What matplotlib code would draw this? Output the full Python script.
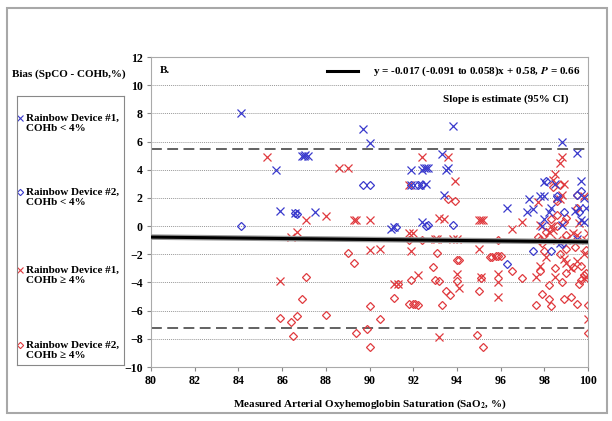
import numpy as np
import matplotlib
matplotlib.use("Agg")
from matplotlib import pyplot as plt
from matplotlib.patches import Rectangle

plt.rcParams['font.family'] = ['Liberation Serif', 'DejaVu Serif']
plt.rcParams['font.weight'] = 'bold'
plt.rcParams['mathtext.fontset'] = 'stix'

# Rainbow Device #1, COHb < 4%  (blue x)
d1_lo_x = [84.1, 85.7, 85.9, 86.6, 87.5, 86.9, 87.0, 87.2, 87.05, 89.7, 90.0, 91.0, 91.1,
           91.9, 92.4, 92.5, 92.6, 92.7, 91.9, 92.3, 92.6, 92.4, 93.3, 93.5, 93.6, 93.4, 93.8,
           96.3, 97.2, 97.3, 97.5, 97.8, 98.0, 98.0, 98.2, 98.3, 98.0, 97.9, 98.6, 98.8, 98.8,
           98.7, 98.5, 99.5, 99.7, 99.4, 99.6, 99.7, 99.8, 99.9, 99.5, 99.8]
d1_lo_y = [8.0, 4.0, 1.1, 0.9, 1.0, 5.0, 5.0, 5.0, 5.05, 6.9, 5.9, -0.2, -0.1,
           4.0, 4.0, 4.1, 4.1, 4.1, 2.9, 2.9, 3.0, 0.3, 5.1, 4.0, 4.1, 2.2, 7.1,
           1.3, 1.0, 1.9, 1.2, 2.1, 2.1, 3.1, 1.0, 1.3, 0.5, 0.0, 2.0, 6.0, 0.1,
           -1.2, 3.0, 5.2, 3.2, 1.1, 1.3, 0.4, 0.3, 1.3, -0.9, 2.0]

# Rainbow Device #2, COHb < 4%  (blue diamond)
d2_lo_x = [84.1, 86.6, 86.7, 89.7, 90.0, 91.2, 91.9, 92.2, 92.4, 92.6, 92.7, 93.8,
           96.3, 97.5, 98.3, 98.8, 98.6, 98.9, 99.7, 99.5, 99.6, 98.1]
d2_lo_y = [0.0, 0.9, 0.85, 2.9, 2.9, -0.05, 2.9, 2.9, 2.9, 0.0, 0.1, 0.1,
           -2.7, -1.8, -1.8, -1.3, 2.1, 1.0, 2.5, 2.2, 1.0, 3.2]

# Rainbow Device #1, COHb >= 4%  (red x)
d1_hi_x = [85.3, 85.9, 86.4, 86.7, 87.1, 88.0, 88.6, 89.0, 89.3, 89.4, 90.0, 90.0, 90.5,
           91.1, 91.3, 91.8, 92.0, 91.9, 91.8, 92.2, 92.4, 93.0, 93.1, 93.2, 93.4, 93.2,
           93.6, 93.8, 94.0, 93.9, 94.0, 94.1, 95.0, 95.1, 95.2, 95.0, 95.1, 95.9, 95.9,
           95.9, 96.5, 97.0, 97.7, 97.6, 97.8, 97.8, 98.0, 98.2, 98.4, 98.5, 98.4, 98.7,
           98.8, 98.9, 98.8, 98.7, 98.9, 99.0, 98.5, 99.0, 99.3, 99.5, 99.6, 99.8, 99.9,
           100.0, 99.8, 99.9, 100.0, 99.5, 99.8, 98.1, 98.6, 99.2, 98.3]
d1_hi_y = [4.9, -3.9, -0.8, -0.4, 0.4, 0.7, 4.1, 4.1, 0.4, 0.4, 0.4, -1.7, -1.6,
           -4.1, -4.1, -0.5, -0.5, -1.8, 2.9, -3.5, 4.9, -0.9, -0.9, 0.6, 0.5, -7.9,
           4.9, -0.9, -0.9, 3.2, -3.4, -4.4, 0.4, 0.4, 0.4, -1.6, -3.6, -3.4, -5.0,
           -4.0, -0.2, 0.3, 1.7, -3.6, -2.8, 0.1, -0.9, -0.4, -0.3, 3.7, 3.3, 4.5,
           4.9, 3.0, 2.2, 1.9, -2.3, -2.6, -3.6, -1.0, -0.5, -0.6, 0.2, 2.1, -1.0,
           -0.5, -3.7, -3.6, -6.6, -2.5, -2.0, -2.2, -1.0, -3.0, 0.0]

# Rainbow Device #2, COHb >= 4%  (red diamond)
d2_hi_x = [85.9, 86.4, 86.5, 86.7, 86.9, 87.1, 88.0, 89.0, 89.3, 89.4, 90.0, 89.9, 90.0,
           90.5, 91.1, 91.3, 91.8, 91.8, 92.0, 92.1, 92.2, 91.9, 92.4, 92.9, 93.0, 93.1,
           93.2, 93.3, 93.5, 93.7, 93.6, 93.9, 94.0, 94.1, 94.0, 94.9, 95.0, 95.1, 95.2,
           95.5, 95.6, 95.8, 95.9, 96.0, 95.9, 96.5, 97.0, 97.6, 97.9, 97.8, 97.9, 98.0,
           98.2, 98.3, 98.2, 98.5, 98.7, 98.8, 98.9, 99.0, 99.0, 98.9, 99.2, 99.3, 99.5,
           99.6, 99.7, 99.8, 99.9, 100.0, 100.0, 99.9, 99.5, 99.5, 98.7, 98.6, 98.4, 99.0,
           98.6, 97.7, 98.6, 99.0, 99.4, 99.7, 98.3, 97.8, 98.1]
d2_hi_y = [-6.5, -6.8, -7.8, -6.4, -5.2, -3.6, -6.3, -1.9, -2.6, -7.6, -5.7, -7.3, -8.6,
           -6.6, -5.1, -4.1, -1.0, -5.5, -5.5, -5.5, -5.6, -3.8, -1.0, -2.9, -3.8, -1.9,
           -3.9, -5.6, -4.6, -4.9, 1.9, 1.8, -2.4, -2.4, -3.9, -7.7, -4.6, -3.7, -8.6,
           -2.2, -2.2, -2.1, -2.1, -2.1, -1.0, -3.2, -3.7, -5.6, -4.8, -3.2, -1.2, -1.8,
           -5.2, -5.7, -4.2, -3.0, -2.0, -4.0, -5.2, -3.3, -1.6, 0.3, -5.0, -2.9, -5.5,
           -4.1, -3.8, -3.5, -1.7, -5.6, -7.6, -3.3, 2.2, 1.3, 2.9, 1.8, 2.8, 0.6,
           0.8, -0.8, 0.0, -0.6, -1.5, -2.8, 0.5, -1.0, -0.4]

slope = -0.017
intercept = 0.58
upper_loa = 5.5
lower_loa = -7.2

legend_labels = ["Rainbow Device #1,\nCOHb < 4%", "Rainbow Device #2,\nCOHb < 4%",
                 "Rainbow Device #1,\nCOHb \u2265 4%", "Rainbow Device #2,\nCOHb \u2265 4%"]

blue = '#3a3acc'
red = '#e03a3e'
W, H = 612, 421

fig = plt.figure(figsize=(6.12, 4.21), dpi=100)
fig.patches.append(Rectangle((7 / W, 1 - 413 / H), 600 / W, 405 / H, transform=fig.transFigure,
                             fill=False, edgecolor='#a8a8a8', lw=1.5))

ax = fig.add_axes([151 / W, 1 - 367 / H, 437 / W, 310 / H])
ax.set_xlim(80, 100)
ax.set_ylim(-10, 12)
ax.set_xticks(range(80, 101, 2))
ax.set_yticks(range(-10, 13, 2))
ax.tick_params(labelsize=8.6, length=3, color='#888888', pad=3)
for s in ax.spines.values():
    s.set_color('#aaaaaa')
for gy in range(-8, 11, 2):
    ax.axhline(gy, color='#999999', ls=(0, (1, 1)), lw=0.7, zorder=0)

ax.axhline(upper_loa, color='#555555', ls=(0, (6, 3)), lw=1.3, zorder=1)
ax.axhline(lower_loa, color='#555555', ls=(0, (6, 3)), lw=1.3, zorder=1)

ms = 5.5
ax.plot(d1_lo_x, d1_lo_y, 'x', color=blue, ms=ms, mew=0.9, zorder=3)
ax.plot(d2_lo_x, d2_lo_y, 'D', color=blue, ms=4.3, mfc='none', mew=0.9, zorder=3)
ax.plot(d1_hi_x, d1_hi_y, 'x', color=red, ms=ms, mew=0.9, zorder=2)
ax.plot(d2_hi_x, d2_hi_y, 'D', color=red, ms=4.3, mfc='none', mew=0.9, zorder=2)

xx = np.array([80, 100])
ax.plot(xx, slope * xx + intercept, color='#9a9a9a', lw=4, zorder=4)
ax.plot(xx, slope * xx + intercept, color='black', lw=2.2, zorder=5)

ax.set_xlabel("Measured Arterial Oxyhemoglobin Saturation (SaO$_\\mathbf{2}$, %)", fontsize=8,
              fontweight='bold', labelpad=7)

ax.text(0.02, 0.955, "B.", transform=ax.transAxes, fontsize=8, va='center')
ax.plot([0.403, 0.474], [0.955, 0.955], transform=ax.transAxes, color='black', lw=2.2)
ax.text(0.507, 0.955, "y = -0.017 (-0.091 to 0.058)x + 0.58, $\\mathbfit{P}$ = 0.66",
        transform=ax.transAxes, fontsize=8, va='center')
ax.text(0.955, 0.865, "Slope is estimate (95% CI)", transform=ax.transAxes, fontsize=8,
        va='center', ha='right')

fig.text(69 / W, 1 - 74 / H, "Bias (SpCO - COHb,%)", fontsize=8, ha='center', va='center')

# legend box drawn in pixel units
lg = fig.add_axes([17 / W, 1 - 365 / H, 107 / W, 269 / H])
lg.set_xlim(17, 124)
lg.set_ylim(365, 96)
lg.set_xticks([])
lg.set_yticks([])
for s in lg.spines.values():
    s.set_color('#888888')
key_y = [119, 193, 271, 346]
key_style = [('x', blue), ('D', blue), ('x', red), ('D', red)]
for ky, (mk, c), lab in zip(key_y, key_style, legend_labels):
    lg.plot([20.5], [ky - 1], mk, color=c, mfc='none', ms=4 if mk == 'x' else 3.2, mew=0.8,
            clip_on=False)
    lg.text(26.5, ky - 5, lab, fontsize=8, va='top', ha='left', linespacing=1.1)

plt.savefig("out.png", dpi=100)
